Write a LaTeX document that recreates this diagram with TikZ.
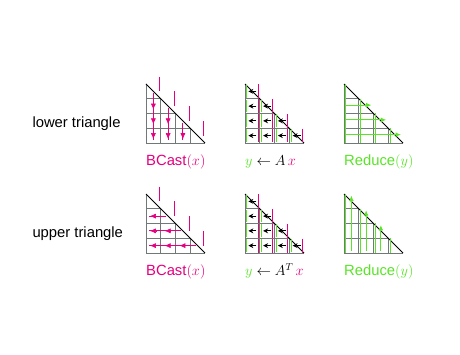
\documentclass[tikz,border=0pt]{standalone}
\usepackage{fontspec}
\setmainfont{Liberation Sans}
\usetikzlibrary{arrows.meta}
\definecolor{pinkc}{RGB}{228,0,127}
\definecolor{greenc}{RGB}{90,228,40}
\definecolor{gridc}{RGB}{112,120,120}
\newcommand{\cw}{14.75}
\newcommand{\trigrid}{%
  \foreach \k in {1,...,4} {\draw[gridline] (0,\k*\cw) -- (\k*\cw,\k*\cw);}
  \foreach \k in {0,...,3} {\draw[gridline] (\k*\cw,\k*\cw) -- (\k*\cw,4*\cw);}
  \draw[diagline] (0,0) -- (4*\cw,4*\cw);}
\newcommand{\xbars}{%
  \foreach \j in {0,...,3} {\draw[pinkbar] ({(\j+1)*\cw-1.3},{\j*\cw-7.4}) -- ({(\j+1)*\cw-1.3},{\j*\cw+7.4});}}
\newcommand{\ygreenbars}{%
  \foreach \j in {0,...,3} {\draw[greenbar] ({\j*\cw+1.7},{\j*\cw}) -- ({\j*\cw+1.7},{4*\cw});}}
\newcommand{\matvec}{%
  \foreach \i in {0,...,3} {
    \foreach \j in {0,...,\i} {
      \draw[greenbar] ({\j*\cw+1.7},{\i*\cw+1}) -- ({\j*\cw+1.7},{(\i+1)*\cw-1});
      \draw[pinkbar] ({(\j+1)*\cw-1.7},{\i*\cw+0.5}) -- ({(\j+1)*\cw-1.7},{(\i+1)*\cw-0.5});
      \draw[blackarrow] ({(\j+0.5)*\cw+4},{(\i+0.5)*\cw}) -- ({(\j+0.5)*\cw-4},{(\i+0.5)*\cw});
    }
  }}
\begin{document}
\begin{tikzpicture}[x=1pt,y=-1pt,
  gridline/.style={draw=gridc, line width=0.8pt},
  diagline/.style={draw=black, line width=0.9pt},
  pinkbar/.style={draw=pinkc, line width=0.9pt},
  greenbar/.style={draw=greenc, line width=0.9pt},
  pinkarrow/.style={draw=pinkc, line width=1pt},
  pinkhead/.style={draw=pinkc, fill=pinkc, line width=0.6pt, -{Latex[length=6pt,width=5pt]}},
  greenarrow/.style={draw=greenc, line width=1.1pt, -{Latex[length=5.5pt,width=4.8pt]}},
  blackarrow/.style={draw=black, line width=0.9pt, -{Stealth[length=5pt,width=5pt]}},
  rowlabel/.style={anchor=base west, inner sep=0pt, font=\fontsize{14.8}{18}\selectfont},
  oplabel/.style={anchor=base west, inner sep=0pt, font=\fontsize{14.8}{18}\selectfont}]
\useasboundingbox[fill=white] (0,0) rectangle (460,355);

% row labels
\node[rowlabel] (lowerlab) at (32.3,127.3) {lower triangle};
\node[rowlabel] (upperlab) at (32.3,237.3) {upper triangle};

% ---------- lower: BCast ----------
\begin{scope}[shift={(146,84)}]
  \trigrid
  \xbars
  \foreach \j in {0,...,2} {
    \draw[pinkarrow] ({(\j+0.5)*\cw},{(\j+0.5)*\cw+2}) -- ({(\j+0.5)*\cw},{4*\cw-3});
    \foreach \i in {\j,...,3} {
      \ifnum\i>\j
        \draw[pinkhead] ({(\j+0.5)*\cw},{(\i+0.5)*\cw-3}) -- ({(\j+0.5)*\cw},{(\i+0.5)*\cw+3.5});
      \fi
    }
  }
\end{scope}
\node[oplabel, text=pinkc] (lbcast) at (146,165.5) {BCast$(x)$};

% ---------- lower: y <- Ax ----------
\begin{scope}[shift={(245,84)}]
  \trigrid
  \matvec
\end{scope}
\node[oplabel] (lmv) at (245,165.5) {$\textcolor{greenc}{y}\leftarrow A\,\textcolor{pinkc}{x}$};

% ---------- lower: Reduce ----------
\begin{scope}[shift={(344,84)}]
  \trigrid
  \ygreenbars
  \foreach \i in {1,...,3} {
    \draw[greenarrow] (1.7,{(\i+0.5)*\cw-1}) -- ({(\i+1)*\cw-2},{(\i+0.5)*\cw-1});
  }
\end{scope}
\node[oplabel, text=greenc] (lred) at (344,165.5) {Reduce$(y)$};

% ---------- upper: BCast ----------
\begin{scope}[shift={(146,194)}]
  \trigrid
  \xbars
  \foreach \i in {1,...,3} {
    \draw[pinkarrow] ({(\i+0.5)*\cw-2},{(\i+0.5)*\cw}) -- (3,{(\i+0.5)*\cw});
    \pgfmathtruncatemacro{\jmax}{\i-1}
    \foreach \j in {0,...,\jmax} {
      \draw[pinkhead] ({(\j+0.5)*\cw+3},{(\i+0.5)*\cw}) -- ({(\j+0.5)*\cw-3.5},{(\i+0.5)*\cw});
    }
  }
\end{scope}
\node[oplabel, text=pinkc] (ubcast) at (146,275.5) {BCast$(x)$};

% ---------- upper: y <- A^T x ----------
\begin{scope}[shift={(245,194)}]
  \trigrid
  \matvec
\end{scope}
\node[oplabel] (umv) at (245,275.5) {$\textcolor{greenc}{y}\leftarrow A^T\,\textcolor{pinkc}{x}$};

% ---------- upper: Reduce ----------
\begin{scope}[shift={(344,194)}]
  \trigrid
  \ygreenbars
  \foreach \j in {0,...,2} {
    \draw[greenarrow] ({(\j+0.5)*\cw},{4*\cw-2}) -- ({(\j+0.5)*\cw},{\j*\cw+1.5});
  }
\end{scope}
\node[oplabel, text=greenc] (ured) at (344,275.5) {Reduce$(y)$};
\end{tikzpicture}
\end{document}
